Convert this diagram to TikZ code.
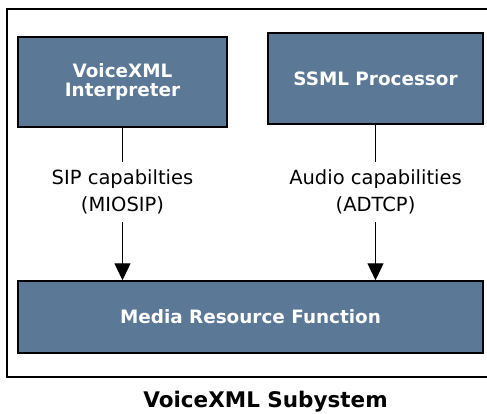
\documentclass[tikz,border=0pt]{standalone}
\usepackage{fontspec}
\setmainfont{DejaVu Sans}
\usetikzlibrary{arrows.meta}
\definecolor{boxblue}{RGB}{91,120,150}
\begin{document}
\begin{tikzpicture}[x=1pt,y=-1pt,
  block/.style={draw=black,line width=1.5pt,fill=boxblue,text=white,
    font=\fontsize{18.4}{19.5}\selectfont\bfseries,align=center,inner sep=0pt},
  capnote/.style={font=\fontsize{19.5}{27}\selectfont,align=center,
    inner sep=0pt,minimum height=60pt},
  link/.style={line width=1.3pt}]
\useasboundingbox (0,0) rectangle (487,414);
% outer frame
\draw[line width=1.5pt] (490,9) -- (7,9) -- (7,377) -- (490,377);
\node[block,minimum width=209pt,minimum height=90pt] (vxml) at (122.5,82) {VoiceXML\\Interpreter};
\node[block,minimum width=215pt,minimum height=91pt] (ssml) at (375.5,78.5) {SSML Processor};
\node[block,minimum width=465pt,minimum height=72pt] (mrf) at (250.5,317) {Media Resource Function};
\node[capnote] (sip) at (122.5,192) {SIP capabilties\\(MIOSIP)};
\node[capnote] (audio) at (375.5,192) {Audio capabilities\\(ADTCP)};
\draw[link] (vxml.south) -- (sip.north);
\draw[link,-{Triangle[width=16pt,length=17pt]}] (sip.south) -- (sip.south |- mrf.north);
\draw[link] (ssml.south) -- (audio.north);
\draw[link,-{Triangle[width=16pt,length=17pt]}] (audio.south) -- (audio.south |- mrf.north);
\node[font=\fontsize{21.5}{26}\selectfont\bfseries,anchor=base,inner sep=0pt] (title) at (265.5,407) {VoiceXML Subystem};
\end{tikzpicture}
\end{document}
